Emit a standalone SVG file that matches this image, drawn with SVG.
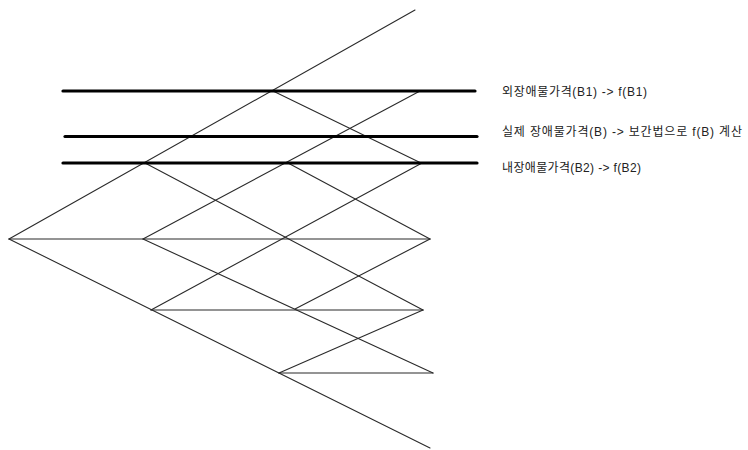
<svg xmlns="http://www.w3.org/2000/svg" width="748" height="450" viewBox="0 0 748 450">
<style>
.t{stroke:#2a2a2a;stroke-width:1.1;fill:none;stroke-linecap:round}
.k{stroke:#000;stroke-width:3.2;fill:none;stroke-linecap:round}
text{font-family:"Liberation Sans","Noto Sans CJK KR",sans-serif;font-size:12px;fill:#222}
</style>
<rect width="748" height="450" fill="#fff"/>
<g id="connectors">
<line class="t" x1="9" y1="239" x2="415" y2="10"/>
<line class="t" x1="9" y1="239" x2="430" y2="448"/>
<line class="t" x1="9" y1="239" x2="430" y2="239"/>
<line class="t" x1="273" y1="91" x2="421" y2="163"/>
<line class="t" x1="420" y1="91" x2="143" y2="239"/>
<line class="t" x1="145" y1="163" x2="423" y2="310"/>
<line class="t" x1="288" y1="163" x2="430" y2="239"/>
<line class="t" x1="422" y1="163" x2="151" y2="310"/>
<line class="t" x1="430" y1="239" x2="295" y2="309"/>
<line class="t" x1="143" y1="239" x2="433" y2="373"/>
<line class="t" x1="151" y1="310" x2="423" y2="310"/>
<line class="t" x1="423" y1="310" x2="279" y2="373"/>
<line class="t" x1="279" y1="373" x2="433" y2="373"/>
</g>
<g id="level-B1">
<line class="k" x1="63" y1="91" x2="475" y2="91"/>
<text x="502" y="96" textLength="145" lengthAdjust="spacing">외장애물가격(B1) -&gt; f(B1)</text>
</g>
<g id="level-B">
<line class="k" x1="65" y1="136.5" x2="477" y2="136.5"/>
<text x="502" y="136" textLength="240" lengthAdjust="spacing">실제 장애물가격(B) -&gt; 보간법으로 f(B) 계산</text>
</g>
<g id="level-B2">
<line class="k" x1="63" y1="163" x2="477" y2="163"/>
<text x="502" y="171.5" textLength="139" lengthAdjust="spacing">내장애물가격(B2) -&gt; f(B2)</text>
</g>
</svg>
